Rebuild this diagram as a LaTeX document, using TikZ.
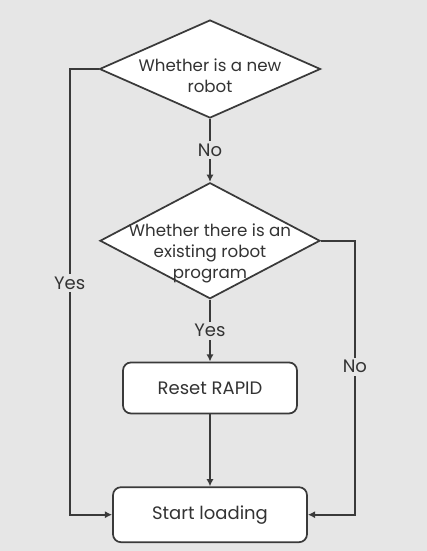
\documentclass[tikz,border=0pt]{standalone}
\usepackage{fontspec}
\setmainfont{Poppins}
\usepackage{tikz}
\usetikzlibrary{arrows.meta,positioning,shapes.geometric}
\definecolor{fcLine}{HTML}{3A3A3A}
\definecolor{fcBg}{HTML}{E6E6E6}
\definecolor{fcText}{HTML}{333333}

\begin{document}
\begin{tikzpicture}[x=0.75pt,y=-0.75pt,
  dec/.style={diamond,draw=fcLine,fill=white,line width=1.3pt,inner sep=0pt},
  dtxt/.style={align=center,text=fcText,inner sep=0pt,font=\fontsize{12.5}{15.75}\selectfont},
  act/.style={draw=fcLine,fill=white,rounded corners=6pt,line width=1.3pt,
    text=fcText,font=\fontsize{13.5}{16}\selectfont},
  ar/.style={-{Latex[length=5.5pt,width=5.5pt]},draw=fcLine,line width=1.3pt},
  lbl/.style={fill=fcBg,text=fcText,inner sep=2pt,font=\fontsize{13.5}{16}\selectfont}
]
\fill[fcBg] (0,0) rectangle (427,551);
\node[dec,minimum width=165.75pt,minimum height=73.5pt] (q1) at (210,69) {};
\node[dtxt,yshift=-4.9pt] (q1t) at (q1.center) {Whether is a new\\robot};
\node[dec,minimum width=165pt,minimum height=87pt,below=47.25pt of q1] (q2) {};
\node[dtxt,yshift=-9.5pt] (q2t) at (q2.center) {Whether there is an\\existing robot\\program};
\node[act,minimum width=130.5pt,minimum height=38.25pt,below=46.5pt of q2] (rst) {Reset RAPID};
\node[act,minimum width=145.5pt,minimum height=41.25pt,below=54pt of rst] (ld) {Start loading};
% connectors
\draw[ar] (q1) -- node[lbl] {No} (q2);
\draw[ar] (q2) -- node[lbl] {Yes} (rst);
\draw[ar] (rst) -- (ld);
\draw[ar] (q1.west) -- ++(-29,0) coordinate (lc) |- node[lbl,pos=0.24] {Yes} (ld.west);
\draw[ar] (q2.east) -- ++(34,0) coordinate (rc) |- node[lbl,pos=0.23] {No} (ld.east);
\end{tikzpicture}
\end{document}
